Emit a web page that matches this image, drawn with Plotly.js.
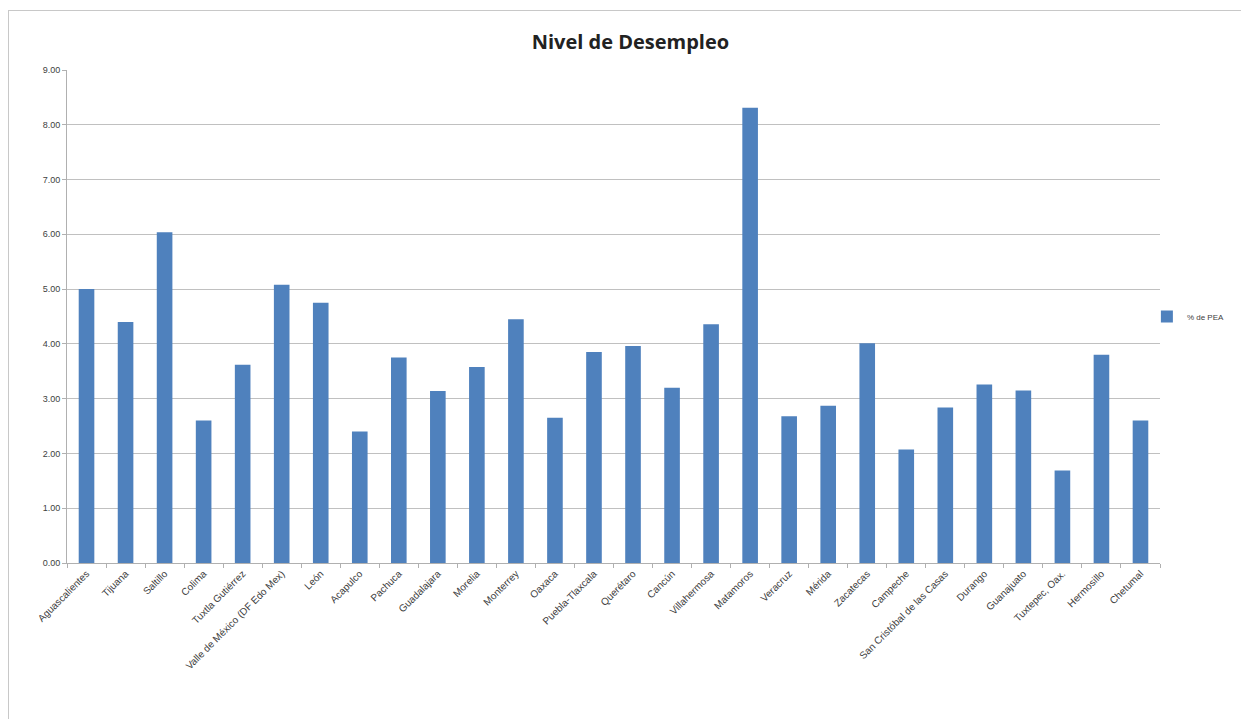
<!DOCTYPE html>
<html>
<head>
<meta charset="utf-8">
<script src="https://cdn.plot.ly/plotly-3.0.1.min.js"></script>
<style>
html,body{margin:0;padding:0;background:#fff;overflow:hidden;}
#frame{position:absolute;left:8px;top:10px;width:1260px;height:740px;border:1px solid #c8c8c8;pointer-events:none;z-index:2;}
#chart{position:absolute;left:0;top:0;width:1241px;height:719px;}
</style>
</head>
<body>
<div id="frame"></div>
<div id="chart"></div>
<script>
const ciudades = ["Aguascalientes","Tijuana","Saltillo","Colima","Tuxtla Gutiérrez","Valle de México (DF Edo Mex)","León","Acapulco","Pachuca","Guadalajara","Morelia","Monterrey","Oaxaca","Puebla-Tlaxcala","Querétaro","Cancún","Villahermosa","Matamoros","Veracruz","Mérida","Zacatecas","Campeche","San Cristóbal de las Casas","Durango","Guanajuato","Tuxtepec, Oax.","Hermosillo","Chetumal"];
const pctPEA = [5.00,4.40,6.04,2.60,3.62,5.08,4.75,2.40,3.75,3.14,3.58,4.45,2.65,3.85,3.96,3.20,4.36,8.31,2.68,2.87,4.01,2.07,2.84,3.26,3.15,1.69,3.80,2.60];
const serieNombre = "% de PEA";
const yTicks = [0,1,2,3,4,5,6,7,8,9];

const trace = {
  type: "bar",
  x: ciudades,
  y: pctPEA,
  name: serieNombre,
  marker: {color: "#4f81bd"},
  showlegend: true
};

const layout = {
  width: 1241, height: 719,
  margin: {l: 67, r: 81, t: 70, b: 156, autoexpand: false},
  paper_bgcolor: "rgba(0,0,0,0)",
  plot_bgcolor: "#ffffff",
  title: {text: "<b>Nivel de Desempleo</b>", x: 0.508, xanchor: "center", y: 0.9416, yanchor: "middle",
          font: {family: "Open Sans, Liberation Sans, sans-serif", size: 20, color: "#222"}},
  bargap: 0.6,
  font: {family: "Liberation Sans, Arial, sans-serif", size: 9, color: "#404040"},
  xaxis: {
    type: "category",
    tickangle: -45,
    showline: true, linecolor: "#b0b0b0", linewidth: 1,
    ticks: "outside", ticklen: 4, tickcolor: "#b0b0b0", tickson: "boundaries",
    showgrid: false,
    tickfont: {size: 10, color: "#404040"}
  },
  yaxis: {
    range: [0, 9],
    tickvals: yTicks,
    tickformat: ".2f",
    showline: true, linecolor: "#b0b0b0", linewidth: 1,
    ticks: "outside", ticklen: 4, tickcolor: "#b0b0b0",
    showgrid: true, gridcolor: "#c0c0c0", gridwidth: 1,
    zeroline: false,
    tickfont: {size: 9, color: "#404040"}
  },
  legend: {x: 0.988, xanchor: "left", y: 0.5, yanchor: "middle",
           font: {size: 8, color: "#404040"}, itemwidth: 30, bgcolor: "rgba(0,0,0,0)"}
};

Plotly.newPlot("chart", [trace], layout, {displayModeBar: false, staticPlot: true});
</script>
</body>
</html>
